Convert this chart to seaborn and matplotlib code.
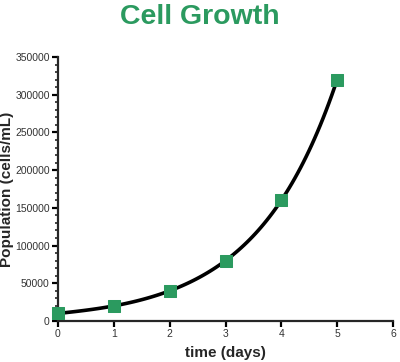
import matplotlib
matplotlib.use("Agg")

import matplotlib.pyplot as plt
import seaborn as sns
from matplotlib.ticker import MultipleLocator

# ===========================
# Data
# ===========================

days = [0, 1, 2, 3, 4, 5]
population = [10000, 20000, 40000, 80000, 160000, 320000]

x_ticks = [0, 1, 2, 3, 4, 5, 6]
y_ticks = [0, 50000, 100000, 150000, 200000, 250000, 300000, 350000]

green = "#2b9a5f"

# ===========================
# Chart Style
# ===========================

sns.set_style("ticks")
plt.rcParams["font.family"] = ["Liberation Sans", "DejaVu Sans"]

fig = plt.figure(figsize=(4, 3.62), dpi=100)
ax = fig.add_axes([0.145, 0.1133, 0.8375, 0.7292])

# smooth curve through the points
sns.regplot(
    x=days,
    y=population,
    order=5,
    ci=None,
    scatter=False,
    color="black",
    line_kws={"linewidth": 2.6, "solid_capstyle": "round"},
    ax=ax
)

sns.scatterplot(
    x=days,
    y=population,
    marker="s",
    s=85,
    color=green,
    edgecolor=green,
    zorder=5,
    clip_on=False,
    ax=ax
)

ax.set_xlim(0, 6)
ax.set_ylim(0, 350000)
ax.set_xticks(x_ticks)
ax.set_yticks(y_ticks)
ax.yaxis.set_minor_locator(MultipleLocator(10000))

sns.despine(ax=ax)
for side in ["left", "bottom"]:
    ax.spines[side].set_linewidth(1.6)

ax.tick_params(axis="both", which="major", direction="out", length=4,
               width=1.6, labelsize=7.5, colors="black", labelcolor="#333333",
               pad=2)
ax.tick_params(axis="y", which="minor", direction="out", length=2.5, width=1.2)

ax.set_xlabel("time (days)", fontsize=11, fontweight="bold")
ax.set_ylabel("Population (cells/mL)", fontsize=11, fontweight="bold")
ax.xaxis.set_label_coords(0.5, -0.095)
ax.yaxis.set_label_coords(-0.132, 0.5)

fig.suptitle("Cell Growth", x=0.5, y=0.99, fontsize=20.5, fontweight="bold",
             color=green, va="top")

plt.savefig("out.png", dpi=100)
plt.close()
